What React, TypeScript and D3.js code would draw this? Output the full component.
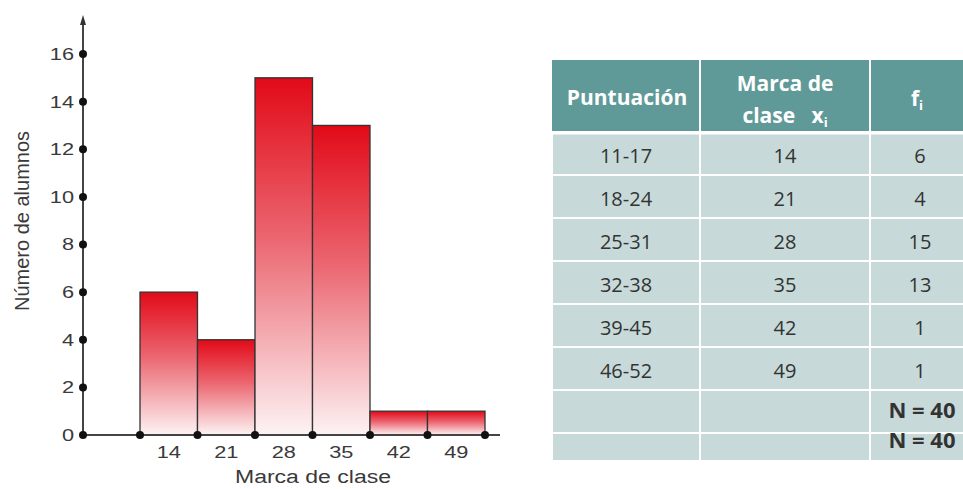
import React, { useEffect, useRef } from "react";
import * as d3 from "d3";

const marks = [14, 21, 28, 35, 42, 49];
const freqs = [6, 4, 15, 13, 1, 1];
const intervals = ["11-17", "18-24", "25-31", "32-38", "39-45", "46-52"];
const yTicks = [0, 2, 4, 6, 8, 10, 12, 14, 16];
const totalLabel = "N = 40";

const width = 963;
const height = 489;
const axisX = 83;

export default function App() {
  const ref = useRef(null);

  useEffect(() => {
    const svg = d3.select(ref.current);
    svg.selectAll("*").remove();

    const half = 3.5;
    const x = d3
      .scaleLinear()
      .domain([marks[0] - half, marks[marks.length - 1] + half])
      .range([140, 485]);
    const y = d3.scaleLinear().domain([0, 16]).range([435, 54]);
    const font = "'Liberation Sans', Arial, sans-serif";
    const stretch = 1.28; // the labels in the picture are a bit wide
    const ink = "#3a3a3a";

    const defs = svg.append("defs");
    const grad = defs
      .append("linearGradient")
      .attr("id", "barGrad")
      .attr("x1", 0)
      .attr("y1", 0)
      .attr("x2", 0)
      .attr("y2", 1);
    grad.append("stop").attr("offset", "0%").attr("stop-color", "#e20a18");
    grad.append("stop").attr("offset", "45%").attr("stop-color", "#eb6670");
    grad.append("stop").attr("offset", "100%").attr("stop-color", "#fdf3f4");

    // bars
    svg
      .append("g")
      .selectAll("rect")
      .data(marks)
      .join("rect")
      .attr("x", (d) => x(d - half))
      .attr("y", (d, i) => y(freqs[i]))
      .attr("width", (d) => x(d + half) - x(d - half))
      .attr("height", (d, i) => y(0) - y(freqs[i]))
      .attr("fill", "url(#barGrad)")
      .attr("stroke", "#333")
      .attr("stroke-width", 1.3);

    // axes
    svg
      .append("line")
      .attr("x1", axisX)
      .attr("x2", axisX)
      .attr("y1", y(0))
      .attr("y2", 22)
      .attr("stroke", "#444")
      .attr("stroke-width", 2);
    svg
      .append("path")
      .attr("d", `M${axisX - 3},25 L${axisX},15 L${axisX + 3},25 Z`)
      .attr("fill", "#333");
    svg
      .append("line")
      .attr("x1", axisX)
      .attr("x2", 500)
      .attr("y1", y(0))
      .attr("y2", y(0))
      .attr("stroke", "#444")
      .attr("stroke-width", 2);

    // y ticks
    const yt = svg.append("g");
    yt.selectAll("circle")
      .data(yTicks)
      .join("circle")
      .attr("cx", axisX)
      .attr("cy", (d) => y(d))
      .attr("r", 4)
      .attr("fill", "#111");
    yt.selectAll("text")
      .data(yTicks)
      .join("text")
      .attr("transform", (d) => `translate(${axisX - 9},${y(d)}) scale(${stretch},1)`)
      .attr("dy", "0.35em")
      .attr("text-anchor", "end")
      .attr("font-family", font)
      .attr("font-size", 17)
      .attr("fill", ink)
      .text((d) => d);

    // x edge dots
    const edges = marks.map((m) => m - half).concat([marks[marks.length - 1] + half]);
    svg
      .append("g")
      .selectAll("circle")
      .data(edges)
      .join("circle")
      .attr("cx", (d) => x(d))
      .attr("cy", y(0))
      .attr("r", 4)
      .attr("fill", "#111");

    svg
      .append("g")
      .selectAll("text")
      .data(marks)
      .join("text")
      .attr("transform", (d) => `translate(${x(d)},452) scale(${stretch},1)`)
      .attr("dy", "0.35em")
      .attr("text-anchor", "middle")
      .attr("font-family", font)
      .attr("font-size", 17)
      .attr("fill", ink)
      .text((d) => d);

    svg
      .append("text")
      .attr("transform", `translate(313,477) scale(${stretch},1)`)
      .attr("dy", "0.35em")
      .attr("text-anchor", "middle")
      .attr("font-family", font)
      .attr("font-size", 18)
      .attr("fill", ink)
      .text("Marca de clase");

    svg
      .append("text")
      .attr("transform", "translate(22,221) rotate(-90)")
      .attr("dy", "0.35em")
      .attr("text-anchor", "middle")
      .attr("font-family", font)
      .attr("font-size", 20)
      .attr("fill", ink)
      .text("Número de alumnos");

    // table
    const tf = "'Open Sans', 'Noto Sans', sans-serif";
    const cols = [552, 700, 870, 990];
    const headTop = 60;
    const headBottom = 132;
    const rowH = 43;
    const tbl = svg.append("g");
    const cellFill = "#c7dad9";
    const headFill = "#5f9a98";

    for (let c = 0; c < 3; c++) {
      tbl
        .append("rect")
        .attr("x", cols[c])
        .attr("y", headTop)
        .attr("width", cols[c + 1] - cols[c])
        .attr("height", headBottom - headTop)
        .attr("fill", headFill);
    }
    const rowTops = d3.range(8).map((i) => headBottom + i * rowH);
    const rowHeights = rowTops.map((_, i) => (i === 7 ? 28 : rowH));
    rowTops.forEach((top, r) => {
      for (let c = 0; c < 3; c++) {
        tbl
          .append("rect")
          .attr("x", cols[c])
          .attr("y", top)
          .attr("width", cols[c + 1] - cols[c])
          .attr("height", rowHeights[r])
          .attr("fill", cellFill)
          .attr("stroke", "#fff")
          .attr("stroke-width", 2);
      }
    });
    // column separators in header
    [700, 870].forEach((cx) =>
      tbl
        .append("line")
        .attr("x1", cx)
        .attr("x2", cx)
        .attr("y1", headTop)
        .attr("y2", headBottom)
        .attr("stroke", "#fff")
        .attr("stroke-width", 2)
    );
    tbl
      .append("line")
      .attr("x1", 552)
      .attr("x2", 963)
      .attr("y1", headBottom + 1)
      .attr("y2", headBottom + 1)
      .attr("stroke", "#fff")
      .attr("stroke-width", 3);

    const head = tbl
      .append("g")
      .attr("font-family", tf)
      .attr("font-weight", "bold")
      .attr("fill", "#fff")
      .attr("font-size", 21)
      .attr("text-anchor", "middle");
    head.append("text").attr("x", 627).attr("y", 98).attr("dy", "0.35em").text("Puntuación");
    head.append("text").attr("x", 785).attr("y", 84).attr("dy", "0.35em").text("Marca de");
    const l2 = head.append("text").attr("x", 785).attr("y", 116).attr("dy", "0.35em");
    l2.append("tspan").text("clase\u00a0\u00a0\u00a0x");
    l2.append("tspan").attr("font-size", 13).attr("dy", "4").text("i");
    const fi = head.append("text").attr("x", 917).attr("y", 99).attr("dy", "0.35em");
    fi.append("tspan").text("f");
    fi.append("tspan").attr("font-size", 13).attr("dy", "4").text("i");

    const body = tbl
      .append("g")
      .attr("font-family", tf)
      .attr("fill", "#333")
      .attr("font-size", 20)
      .attr("text-anchor", "middle");
    intervals.forEach((iv, i) => {
      const cy = rowTops[i] + rowH / 2 + 2;
      body.append("text").attr("x", 626).attr("y", cy).attr("dy", "0.35em").text(iv);
      body.append("text").attr("x", 785).attr("y", cy).attr("dy", "0.35em").text(marks[i]);
      body.append("text").attr("x", 920).attr("y", cy).attr("dy", "0.35em").text(freqs[i]);
    });
    [410, 440].forEach((ty) =>
      body
        .append("text")
        .attr("x", 922)
        .attr("y", ty)
        .attr("dy", "0.35em")
        .attr("font-weight", "bold")
        .attr("font-size", 22)
        .text(totalLabel)
    );
  }, []);

  return (
    <svg
      ref={ref}
      width={width}
      height={height}
      style={{ position: "absolute", left: 0, top: 0, background: "#fff" }}
    />
  );
}
